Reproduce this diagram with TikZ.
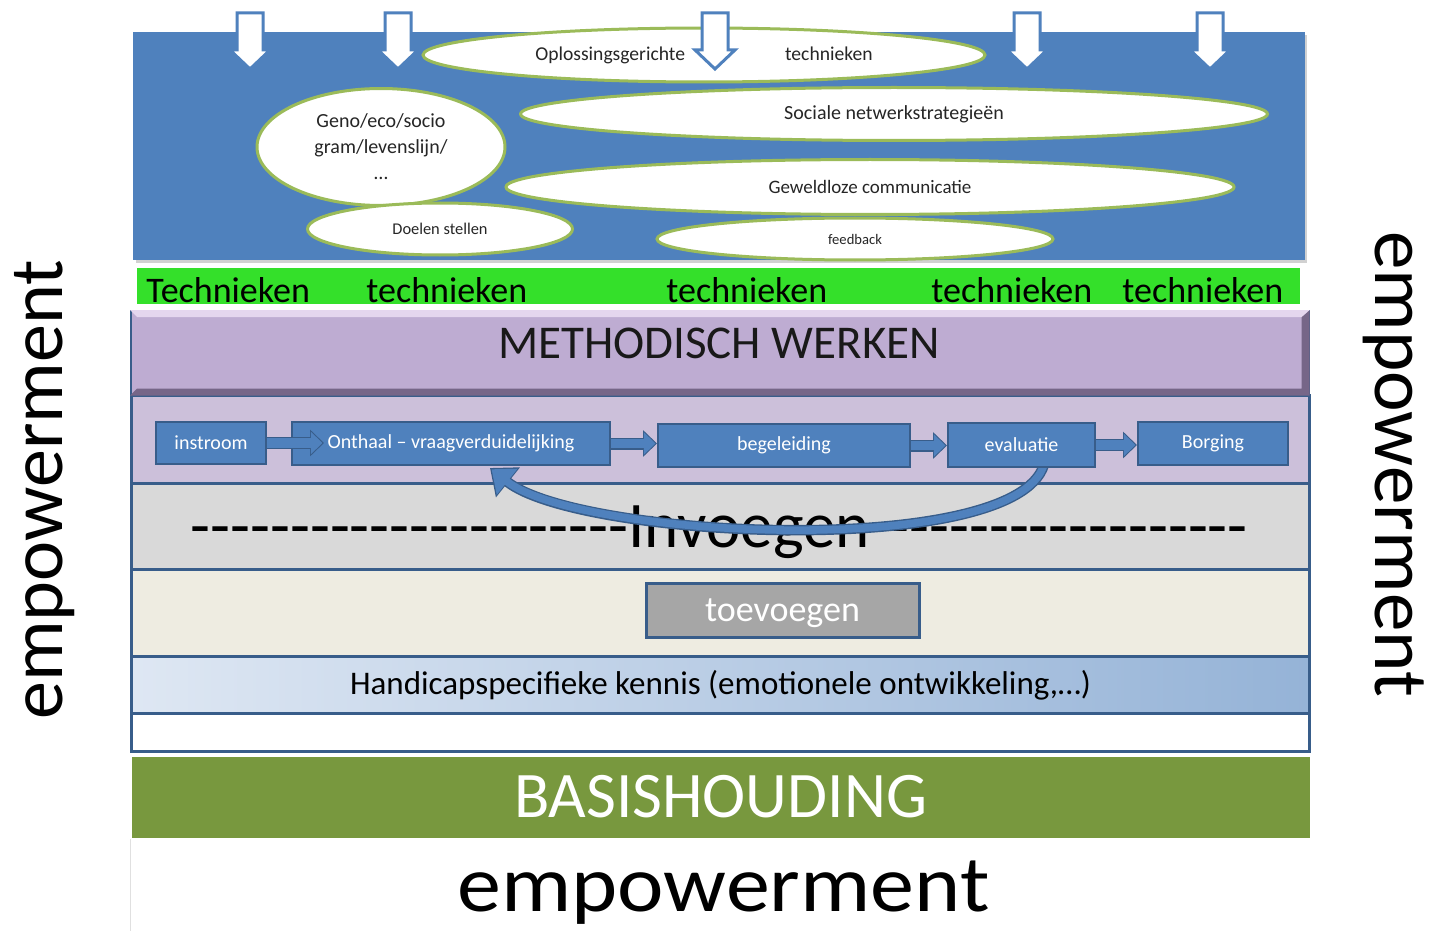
\documentclass[tikz,border=0pt]{standalone}
\usepackage{fontspec}
\setmainfont{Carlito}
\usetikzlibrary{arrows.meta, positioning, calc, shapes.geometric}
\definecolor{myblue}{RGB}{79,129,189}
\definecolor{darkblue}{RGB}{56,93,138}
\definecolor{mygreen}{RGB}{155,187,89}
\definecolor{bargreen}{RGB}{52,224,42}
\definecolor{methpurple}{RGB}{190,172,210}
\definecolor{methlight}{RGB}{228,214,238}
\definecolor{methdark}{RGB}{118,102,136}
\definecolor{procpurple}{RGB}{204,192,218}
\definecolor{greyband}{RGB}{217,217,217}
\definecolor{creamband}{RGB}{238,236,225}
\definecolor{hclight}{RGB}{222,231,243}
\definecolor{hcdark}{RGB}{149,179,215}
\definecolor{basisgreen}{RGB}{120,152,62}
\definecolor{toevgray}{RGB}{166,166,166}
\newcommand{\dashrow}[1]{\foreach \i in {1,...,#1}{-\kern0pt}}

\begin{document}
\begin{tikzpicture}[x=0.5pt, y=-0.5pt,
    band/.style={draw=darkblue, line width=1.5pt, minimum width=589pt, inner sep=0pt, anchor=north west},
    ell/.style={ellipse, draw=mygreen, line width=1.5pt, fill=white, inner sep=0pt, text=black!85},
    stepbox/.style={draw=darkblue, line width=1pt, fill=myblue, text=white, inner sep=0pt, font=\fontsize{10}{12}\selectfont},
    flow/.style={line width=4.6pt, myblue, shorten >=0.8pt, -{Triangle[length=5.8pt, width=11pt]},
        preaction={draw=darkblue, line width=6pt, shorten >=0pt, -{Triangle[length=7pt, width=13pt]}}},
    back/.style={line width=3.8pt, myblue, shorten >=1pt, -{Triangle[length=10pt, width=16pt]},
        preaction={draw=darkblue, line width=5.2pt, shorten >=0pt, -{Triangle[length=11.5pt, width=18.5pt]}}},
    downarrow/.style={fill=white, draw=myblue, line width=1.5pt, line join=miter}
]
    \useasboundingbox (0,0) rectangle (1431,931);
    \fill[white] (0,0) rectangle (1431,931);

    % blauw vlak met technieken
    \fill[black!18] (136,35) rectangle (1307,263);
    \fill[myblue] (133,32) rectangle (1305,260);
    \node[ell, minimum width=281pt, minimum height=27pt, font=\fontsize{9.8}{12}\selectfont] (oplos) at (704,55) {Oplossingsgerichte\hspace{50pt}technieken};
    \node[ell, minimum width=373.5pt, minimum height=26.5pt, font=\fontsize{10}{12}\selectfont] (sociaal) at (894,114) {Sociale netwerkstrategieën};
    \node[ell, minimum width=124pt, minimum height=58.5pt, align=center, font=\fontsize{10}{13}\selectfont] (geno) at (381,147) {Geno/eco/socio\\gram/levenslijn/\\\dots};
    \node[ell, minimum width=364pt, minimum height=27.5pt, font=\fontsize{9.5}{12}\selectfont] (geweld) at (870,187) {Geweldloze communicatie};
    \node[ell, minimum width=132.5pt, minimum height=26pt, font=\fontsize{8.2}{10}\selectfont] (doelen) at (440,229) {Doelen stellen};
    \node[ell, minimum width=198pt, minimum height=21pt, font=\fontsize{7.3}{9}\selectfont] (feedback) at (855,239) {feedback};

    % pijlen naar beneden
    \foreach \x in {250,398,715,1027,1210}
        \draw[downarrow] ({\x-13},13) -- ({\x+13},13) -- ({\x+13},50) -- ({\x+20},50) -- (\x,69) -- ({\x-20},50) -- ({\x-13},50) -- cycle;

    % groene balk
    \fill[bargreen] (137,268) rectangle (1300,304);
    \foreach \x/\t in {146/Technieken, 366/technieken, 666/technieken, 931/technieken, 1122/technieken}
        \node[anchor=base west, inner sep=0pt, font=\fontsize{18}{20}\selectfont] (tech\x) at (\x,302) {\t};

    % lagen
    \node[band, fill=procpurple, minimum height=44pt] (proces) at (130,394) {};
    \node[band, fill=greyband, minimum height=43pt] (invoeg) at (130,482) {};
    \node[band, fill=creamband, minimum height=43.5pt] (toevoeg) at (130,568) {};
    \node[band, left color=hclight, right color=hcdark, minimum height=28.5pt,
          font=\fontsize{16.5}{18}\selectfont] (kennis) at (130,655) {Handicapspecifieke kennis (emotionele ontwikkeling,…)};
    \node[band, fill=white, minimum height=19pt] (leeg) at (130,712) {};
    \node[band, draw=none, fill=basisgreen, minimum height=40.5pt, text=white,
          font=\fontsize{32.5}{36}\selectfont] (basis) at (130,755) {BASISHOUDING};
    \draw[black!12, line width=0.5pt] (basis.south west) -- (130,931);

    % methodisch werken
    \node[band, draw=darkblue, line width=0.8pt, fill=methpurple, minimum height=42pt] (meth) at (130,310) {};
    \fill[methdark] (meth.south west) -- (meth.south east) -- (meth.north east)
        -- ([shift={(-8,7)}]meth.north east) -- ([shift={(-8,-7)}]meth.south east) -- ([shift={(7,-7)}]meth.south west) -- cycle;
    \fill[methlight] (meth.north west) -- (meth.north east) -- ([shift={(-8,7)}]meth.north east) -- ([shift={(7,7)}]meth.north west) -- cycle;
    \node[anchor=base, inner sep=0pt, text=black!90, font=\fontsize{23.5}{26}\selectfont] (methtxt) at (719,358) {METHODISCH WERKEN};

    % invoegen
    \node[anchor=base, inner sep=0pt, font=\fontsize{32.5}{36}\selectfont] (invoegtxt) at (719.5,547)
        {\dashrow{22}Invoegen\dashrow{19}};

    % toevoegen
    \node[draw=darkblue, line width=1.5pt, fill=toevgray, text=white, minimum width=136.5pt, minimum height=27pt,
          inner sep=0pt, text depth=0pt, font=\fontsize{18}{20}\selectfont] (toev) at (782.5,610) {toevoegen};

    % processtappen
    \coordinate (startback) at (1045,460);
    \coordinate (endback) at (490,468);
    \draw[back] (startback) .. controls (1030,560) and (580,540) .. (endback);
    \node[stepbox, minimum width=55pt, minimum height=21pt] (instroom) at (211,443) {instroom};
    \node[stepbox, minimum width=159pt, minimum height=21.5pt] (onthaal) at (451,443.5) {Onthaal -- vraagverduidelijking};
    \node[stepbox, minimum width=126pt, minimum height=21.5pt] (begel) at (784,445.5) {begeleiding};
    \node[stepbox, minimum width=73.5pt, minimum height=22pt] (evaluatie) at (1021.5,445) {evaluatie};
    \node[stepbox, minimum width=75pt, minimum height=21.5pt] (borging) at (1213,443.5) {Borging};
    \foreach \a/\b/\s in {instroom/onthaal/33, onthaal/begel/0, begel/evaluatie/0, evaluatie/borging/0}
        \draw[flow] (\a.east) -- ($(\a.east -| \b.west)+(\s,0)$);

    % empowerment rondom
    \node[anchor=base, inner sep=0pt, rotate=90, font=\fontsize{38}{40}\selectfont] (empl) at (62,490) {empowerment};
    \node[anchor=base, inner sep=0pt, rotate=-90, font=\fontsize{38.5}{40}\selectfont] (empr) at (1375,464) {empowerment};
    \node[anchor=base, inner sep=0pt, font=\fontsize{40}{42}\selectfont] (empb) at (723.5,911) {\scalebox{1.1}[1]{empowerment}};
\end{tikzpicture}
\end{document}
